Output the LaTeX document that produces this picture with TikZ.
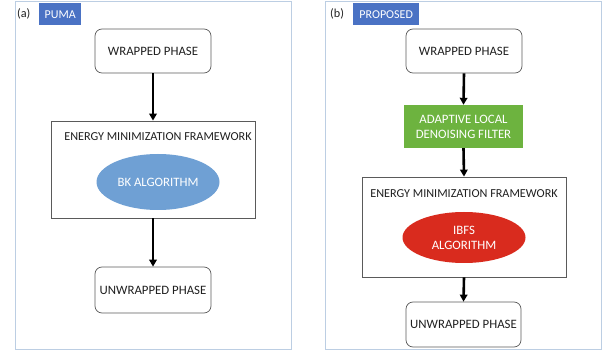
\documentclass[tikz,border=0pt]{standalone}
\usepackage{fontspec}
\setmainfont{Carlito}
\usetikzlibrary{arrows.meta,shapes.geometric}
\definecolor{framec}{HTML}{BCCEE3}
\definecolor{tagblue}{HTML}{4A72C4}
\definecolor{ellblue}{HTML}{6FA0D4}
\definecolor{filtgreen}{HTML}{6DB33F}
\definecolor{ellred}{HTML}{D92B1E}
\definecolor{edgec}{HTML}{5A5A5A}
\definecolor{txt}{HTML}{202020}
\tikzset{
  panel/.style={draw=framec, line width=1pt},
  tag/.style={fill=tagblue, text=white, font=\fontsize{12}{13}\selectfont, inner sep=0pt, anchor=north west},
  lbl/.style={text=txt, font=\fontsize{12.2}{14}\selectfont, inner sep=0pt},
  phase/.style={draw=edgec, line width=0.7pt, rounded corners=7pt, fill=white, text=txt,
    font=\fontsize{12.8}{14}\selectfont, inner sep=0pt},
  frame/.style={draw=edgec, line width=0.8pt, fill=white, inner sep=0pt},
  algo/.style={ellipse, draw=none, text=white, font=\fontsize{12.8}{15}\selectfont,
    inner sep=0pt, align=center},
  filt/.style={fill=filtgreen, text=white, font=\fontsize{12.8}{15}\selectfont,
    inner sep=0pt, align=center},
  flow/.style={line width=2.6pt, -{Triangle[length=7pt,width=7.5pt]}}
}
\begin{document}
\begin{tikzpicture}[x=1pt,y=-1pt]
\useasboundingbox (0,0) rectangle (610,352);
% panels
\draw[panel] (15,2) rectangle (291,349);
\draw[panel] (325,2) rectangle (601,349);
% panel (a)
\node[lbl, anchor=west] (la) at (17,14) {(a)};
\node[tag, minimum width=42pt, minimum height=22pt] (puma) at (39,3) {PUMA};
\node[phase, minimum width=116pt, minimum height=44pt] (wa) at (153,51) {WRAPPED PHASE};
\node[frame, minimum width=204pt, minimum height=97pt] (ea) at (153,169.5) {};
\node[lbl] (eta) at (158,137) {ENERGY MINIMIZATION FRAMEWORK};
\node[algo, fill=ellblue, minimum width=123pt, minimum height=56pt] (bk) at (158,182) {BK ALGORITHM};
\node[phase, minimum width=116pt, minimum height=46pt] (ua) at (153,290) {UNWRAPPED PHASE};
\draw[flow] (wa.south) -- (ea.north);
\draw[flow] (ea.south) -- (ua.north);
% panel (b)
\node[lbl, anchor=west] (lb) at (330,14) {(b)};
\node[tag, minimum width=66pt, minimum height=22pt] (prop) at (353,3) {PROPOSED};
\node[phase, minimum width=116pt, minimum height=44pt] (wb) at (464,51) {WRAPPED PHASE};
\node[filt, minimum width=119pt, minimum height=43pt] (fb) at (463.5,126.5) {ADAPTIVE LOCAL\\DENOISING FILTER};
\node[frame, minimum width=204pt, minimum height=100pt] (eb) at (464,227) {};
\node[lbl] (etb) at (464,194) {ENERGY MINIMIZATION FRAMEWORK};
\node[algo, fill=ellred, minimum width=123pt, minimum height=51pt] (ibfs) at (464,237.5) {IBFS\\ALGORITHM};
\node[phase, minimum width=115pt, minimum height=45pt] (ub) at (463.5,324.5) {UNWRAPPED PHASE};
\draw[flow] (wb.south) -- (fb.north);
\draw[flow] (fb.south) -- (eb.north);
\draw[flow] (eb.south) -- (ub.north);
\end{tikzpicture}
\end{document}
